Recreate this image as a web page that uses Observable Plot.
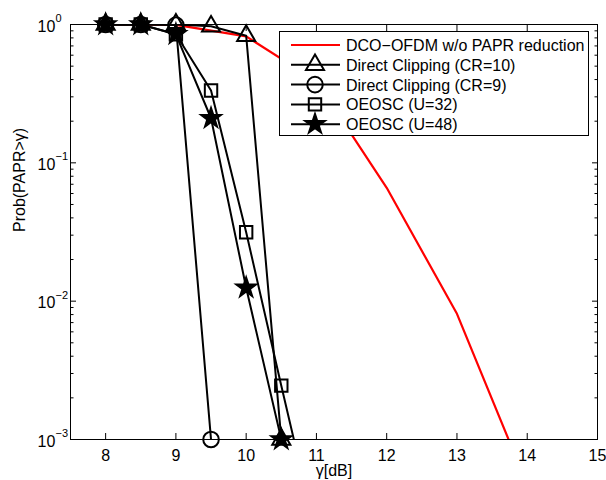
<!DOCTYPE html>
<html><head><meta charset="utf-8">
<script src="https://cdn.jsdelivr.net/npm/d3@7"></script>
<script src="https://cdn.jsdelivr.net/npm/@observablehq/plot@0.6"></script>
<style>
html,body{margin:0;padding:0;background:#fff;}
#chart{width:606px;height:480px;overflow:hidden;}
</style></head><body><div id="chart"></div>
<script>
// ---- data ----
const gammaRed = [8, 9, 10, 11, 12, 13, 14];
const probRed  = [1.0, 0.995, 0.82, 0.39, 0.066, 0.0081, 0.00047];

const gammaCR10 = [8, 8.5, 9, 9.5, 10, 10.5];
const probCR10  = [1.0, 1.0, 1.0, 0.97, 0.83, 0.001];

const gammaCR9 = [8, 8.5, 9, 9.5];
const probCR9  = [1.0, 1.0, 0.99, 0.001];

const gammaU32 = [8, 8.5, 9, 9.5, 10, 10.5, 11];
const probU32  = [1.0, 1.0, 0.85, 0.333, 0.0315, 0.00245, 0.0002];

const gammaU48 = [8, 8.5, 9, 9.5, 10, 10.5];
const probU48  = [1.0, 1.0, 0.85, 0.21, 0.0125, 0.001];

const seriesNames = [
  "DCO\u2212OFDM w/o PAPR reduction",
  "Direct Clipping (CR=10)",
  "Direct Clipping (CR=9)",
  "OEOSC (U=32)",
  "OEOSC (U=48)"
];

const xTicks = [8, 9, 10, 11, 12, 13, 14, 15];
const yMajor = [1, 0.1, 0.01, 0.001];
const yExp   = ["0", "\u22121", "\u22122", "\u22123"];
const yMinor = [0.002,0.003,0.004,0.005,0.006,0.007,0.008,0.009,
                0.02,0.03,0.04,0.05,0.06,0.07,0.08,0.09,
                0.2,0.3,0.4,0.5,0.6,0.7,0.8,0.9];
const xLabel = "\u03b3[dB]";
const yLabel = "Prob(PAPR>\u03b3)";

// ---- build tables ----
const toRows = (xs, ys) => xs.map((x, i) => ({x, y: ys[i]}));
const red  = toRows(gammaRed, probRed);
const black = [
  {rows: toRows(gammaCR10, probCR10), symbol: "triangle", r: 6.7, fill: "none"},
  {rows: toRows(gammaCR9,  probCR9),  symbol: "circle",   r: 7.8, fill: "none"},
  {rows: toRows(gammaU32,  probU32),  symbol: "square",   r: 7.0, fill: "none"},
  {rows: toRows(gammaU48,  probU48),  symbol: "star",     r: 6.6, fill: "black"}
];

const FONT = "'Liberation Sans', Arial, Helvetica, sans-serif";
const marks = [
  Plot.line(red, {x: "x", y: "y", stroke: "#ff0000", strokeWidth: 2.2, clip: true})
];
for (const s of black) {
  marks.push(Plot.line(s.rows, {x: "x", y: "y", stroke: "black", strokeWidth: 2, clip: true}));
  marks.push(Plot.dot(s.rows.filter(d => d.y >= 0.001), {
    x: "x", y: "y", symbol: s.symbol, r: s.r, stroke: "black",
    strokeWidth: s.symbol === "star" ? 1.5 : 2, fill: s.fill
  }));
}
// axes
marks.push(
  Plot.frame({stroke: "black", strokeWidth: 1}),
  Plot.axisX(xTicks, {anchor: "bottom", tickSize: -6, tickFormat: () => "", label: null}),
  Plot.axisX(xTicks, {anchor: "top", tickSize: -6, tickFormat: () => "", label: null}),
  Plot.axisX(xTicks, {anchor: "bottom", tickSize: 0, tickPadding: 10, fontSize: 16, tickFormat: d => String(d), label: null}),
  Plot.axisY(yMajor, {anchor: "left", tickSize: -6, tickFormat: () => "", label: null}),
  Plot.axisY(yMinor, {anchor: "left", tickSize: -3.5, tickFormat: () => "", label: null}),
  Plot.axisY(yMajor, {anchor: "right", tickSize: -6, tickFormat: () => "", label: null}),
  Plot.axisY(yMinor, {anchor: "right", tickSize: -3.5, tickFormat: () => "", label: null}),
  Plot.text(yMajor, {y: d => d, frameAnchor: "left", text: () => "10", textAnchor: "start", dx: -33, dy: 2, fontSize: 16}),
  Plot.text(yMajor, {y: d => d, frameAnchor: "left", text: (d, i) => yExp[i], textAnchor: "start", dx: -15, dy: -6, fontSize: 11}),
  Plot.text([yLabel], {frameAnchor: "left", text: d => d, rotate: -90, dx: -51, fontSize: 16}),
  Plot.text([xLabel], {frameAnchor: "bottom", text: d => d, lineAnchor: "bottom", dy: 36.5, fontSize: 16})
);

const chart = Plot.plot({
  width: 606, height: 480,
  marginLeft: 70, marginRight: 9, marginTop: 24, marginBottom: 41,
  x: {domain: [7.5, 15]},
  y: {type: "log", domain: [0.001, 1]},
  style: {fontFamily: FONT, fontSize: "16px", background: "white", color: "black", overflow: "visible"},
  marks
});
document.getElementById("chart").appendChild(chart);

// ---- legend ----
const svg = d3.select(chart);
const lg = svg.append("g").attr("font-family", FONT).attr("font-size", 16).attr("text-anchor", "start");
lg.append("rect").attr("x", 279.5).attr("y", 31.5).attr("width", 309).attr("height", 104)
  .attr("fill", "white").attr("stroke", "black").attr("stroke-width", 1);
const symMap = {triangle: d3.symbolTriangle, circle: d3.symbolCircle, square: d3.symbolSquare, star: d3.symbolStar};
seriesNames.forEach((name, i) => {
  const base = 51 + i * 19.8;
  const cy = base - 6;
  lg.append("line").attr("x1", 291).attr("x2", 340).attr("y1", cy).attr("y2", cy)
    .attr("stroke", i === 0 ? "#ff0000" : "black").attr("stroke-width", i === 0 ? 2.2 : 2);
  if (i > 0) {
    const s = black[i - 1];
    lg.append("path").attr("transform", `translate(315,${cy})`)
      .attr("d", d3.symbol(symMap[s.symbol], Math.PI * s.r * s.r)())
      .attr("fill", s.fill).attr("stroke", "black").attr("stroke-width", s.symbol === "star" ? 1.5 : 2);
  }
  lg.append("text").attr("x", 346).attr("y", base).attr("text-anchor", "start").attr("fill", "black").text(name);
});
</script></body></html>
